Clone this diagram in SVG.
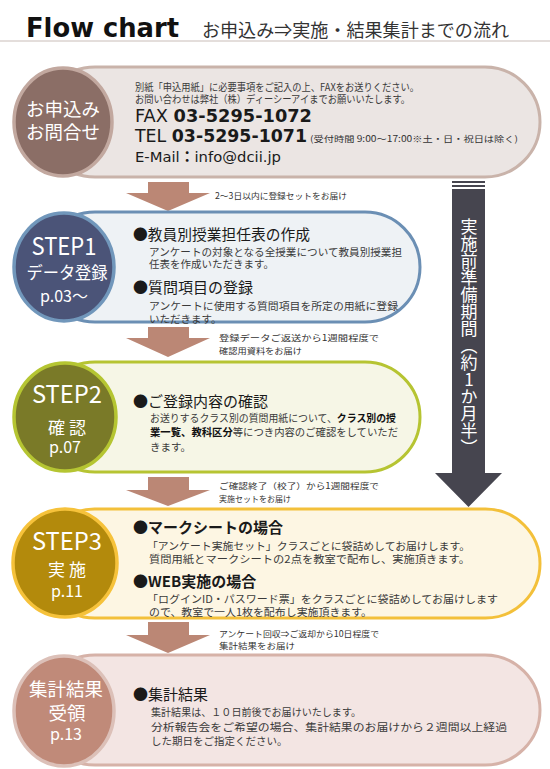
<svg xmlns="http://www.w3.org/2000/svg" width="550" height="769" viewBox="0 0 550 769">
<style>
.jp{font-family:"Noto Sans CJK JP","Noto Sans",sans-serif}
.lat{font-family:"DejaVu Sans","Noto Sans CJK JP",sans-serif}
.body{font-family:"Noto Sans CJK JP",sans-serif;font-size:10.5px;fill:#3a3a3a}
.head{font-family:"Noto Sans CJK JP",sans-serif;font-size:15px;fill:#1a1a1a}
.note{font-family:"Noto Sans CJK JP",sans-serif;font-size:8.5px;fill:#333}
.ctext{font-family:"Noto Sans CJK JP",sans-serif;fill:#fff;text-anchor:middle}
.arrow{fill:#bb8775}
</style>
<rect width="550" height="769" fill="#fff"/>
<g id="header">
<text x="26" y="37" font-family="DejaVu Sans" font-weight="bold" font-size="26" fill="#111" textLength="153" lengthAdjust="spacingAndGlyphs">Flow chart</text>
<text x="202" y="37" class="jp" font-size="18" fill="#333" textLength="307" lengthAdjust="spacingAndGlyphs">お申込み⇒実施・結果集計までの流れ</text>
<line x1="0" y1="41" x2="550" y2="41" stroke="#c9bdb8" stroke-width="1"/>
</g>
<g id="connectors">
<polygon class="arrow" points="148,182 189,182 189,193 210,193 168,211 126,193 148,193"/>
<polygon class="arrow" points="148,327 189,327 189,338 210,338 168,357 126,338 148,338"/>
<polygon class="arrow" points="148,477 189,477 189,490 210,490 168,506 126,490 148,490"/>
<polygon class="arrow" points="148,622 189,622 189,635 210,635 168,653 126,635 148,635"/>
<text class="note" x="215" y="199" textLength="132" lengthAdjust="spacingAndGlyphs">2～3日以内に登録セットをお届け</text>
<text class="note" x="219" y="341" textLength="160" lengthAdjust="spacingAndGlyphs">登録データご返送から1週間程度で</text>
<text class="note" x="219" y="354" textLength="83" lengthAdjust="spacingAndGlyphs">確認用資料をお届け</text>
<text class="note" x="219" y="489" textLength="160" lengthAdjust="spacingAndGlyphs">ご確認終了（校了）から1週間程度で</text>
<text class="note" x="219" y="502" textLength="72" lengthAdjust="spacingAndGlyphs">実施セットをお届け</text>
<text class="note" x="219" y="637" textLength="160" lengthAdjust="spacingAndGlyphs">アンケート回収⇒ご返却から10日程度で</text>
<text class="note" x="219" y="649" textLength="76" lengthAdjust="spacingAndGlyphs">集計結果をお届け</text>
</g>
<g id="period-arrow">
<rect x="452" y="181" width="33" height="2" fill="#46454f"/>
<rect x="452" y="185" width="33" height="2" fill="#46454f"/>
<polygon points="452,189 485,189 485,473 502,473 468.5,507 435,473 452,473" fill="#46454f"/>
<text x="469" y="218" class="jp" font-size="17" fill="#fff" style="writing-mode:vertical-rl;text-orientation:upright">実施前準備期間（約1か月半）</text>
</g>
<g id="apply">
<rect x="40" y="67" width="500" height="110" rx="55" fill="#ebe5e3" stroke="#c9b3aa" stroke-width="3"/>
<ellipse cx="63" cy="122" rx="49" ry="54" fill="#8b6e66" stroke="#c2a89f" stroke-width="3.5"/>
<text class="ctext" x="63" y="116" font-size="18.5">お申込み</text>
<text class="ctext" x="63" y="139" font-size="18.5">お問合せ</text>
<text class="body" x="135" y="91" font-size="10" textLength="284" lengthAdjust="spacingAndGlyphs">別紙「申込用紙」に必要事項をご記入の上、FAXをお送りください。</text>
<text class="body" x="135" y="103" font-size="10" textLength="275" lengthAdjust="spacingAndGlyphs">お問い合わせは弊社（株）ディーシーアイまでお願いいたします。</text>
<text class="lat" x="135" y="122" font-size="17" fill="#1a1a1a" textLength="177" lengthAdjust="spacingAndGlyphs">FAX <tspan font-weight="bold">03-5295-1072</tspan></text>
<text class="lat" x="135" y="142" font-size="17" fill="#1a1a1a" textLength="172" lengthAdjust="spacingAndGlyphs">TEL <tspan font-weight="bold">03-5295-1071</tspan></text>
<text class="jp" x="310" y="142" font-size="8.5" fill="#333" textLength="208" lengthAdjust="spacingAndGlyphs">(受付時間  9:00～17:00※土・日・祝日は除く)</text>
<text class="lat" x="135" y="162" font-size="14.5" fill="#1a1a1a" textLength="146" lengthAdjust="spacingAndGlyphs">E-Mail<tspan font-weight="bold">：</tspan>info@dcii.jp</text>
</g>
<g id="step1">
<rect x="40" y="212" width="380" height="110" rx="55" fill="#eef2f5" stroke="#6b8fb4" stroke-width="3"/>
<ellipse cx="64" cy="267" rx="50" ry="54" fill="#4b5478" stroke="#7197bb" stroke-width="3.5"/>
<text class="ctext" x="64" y="255" font-size="24" textLength="65" lengthAdjust="spacingAndGlyphs">STEP1</text>
<text class="ctext" x="67" y="279" font-size="17.5" textLength="81" lengthAdjust="spacingAndGlyphs">データ登録</text>
<text class="ctext" x="64" y="302" font-size="16">p.03～</text>
<text class="head" x="133" y="240" textLength="177" lengthAdjust="spacingAndGlyphs">●教員別授業担任表の作成</text>
<text class="body" x="149" y="256" textLength="253" lengthAdjust="spacingAndGlyphs">アンケートの対象となる全授業について教員別授業担</text>
<text class="body" x="149" y="268">任表を作成いただきます。</text>
<text class="head" x="133" y="293">●質問項目の登録</text>
<text class="body" x="149" y="310" textLength="249" lengthAdjust="spacingAndGlyphs">アンケートに使用する質問項目を所定の用紙に登録</text>
<text class="body" x="149" y="323">いただきます。</text>
</g>
<g id="step2">
<rect x="40" y="362" width="380" height="110" rx="55" fill="#f6f6e6" stroke="#b6c432" stroke-width="3"/>
<ellipse cx="65" cy="417" rx="51" ry="54" fill="#7a7a28" stroke="#b5c532" stroke-width="3.5"/>
<text class="ctext" x="67" y="403" font-size="24" textLength="70" lengthAdjust="spacingAndGlyphs">STEP2</text>
<text class="ctext" x="67" y="434" font-size="17">確 認</text>
<text class="ctext" x="65" y="453" font-size="16">p.07</text>
<text class="head" x="133" y="407">●ご登録内容の確認</text>
<text class="body" x="150" y="422" textLength="246" lengthAdjust="spacingAndGlyphs">お送りするクラス別の質問用紙について、<tspan font-weight="bold" fill="#111">クラス別の授</tspan></text>
<text class="body" x="150" y="436" textLength="248" lengthAdjust="spacingAndGlyphs"><tspan font-weight="bold" fill="#111">業一覧、教科区分</tspan>等につき内容のご確認をしていただ</text>
<text class="body" x="150" y="451">きます。</text>
</g>
<g id="step3">
<rect x="40" y="509" width="500" height="109" rx="54.5" fill="#fdf6e3" stroke="#f3c03a" stroke-width="3"/>
<ellipse cx="65" cy="563" rx="52" ry="54" fill="#b38a0c" stroke="#f6c23b" stroke-width="3.5"/>
<text class="ctext" x="67" y="550" font-size="24" textLength="70" lengthAdjust="spacingAndGlyphs">STEP3</text>
<text class="ctext" x="67" y="576" font-size="17">実 施</text>
<text class="ctext" x="67" y="597" font-size="16">p.11</text>
<text class="head" x="133" y="533" font-weight="bold">●マークシートの場合</text>
<text class="body" x="147" y="550" font-size="11" textLength="323" lengthAdjust="spacingAndGlyphs">「アンケート実施セット」クラスごとに袋詰めしてお届けします。</text>
<text class="body" x="149" y="563" font-size="11" textLength="321" lengthAdjust="spacingAndGlyphs">質問用紙とマークシートの2点を教室で配布し、実施頂きます。</text>
<text class="head" x="133" y="587" font-weight="bold">●WEB実施の場合</text>
<text class="body" x="147" y="603" font-size="11" textLength="351" lengthAdjust="spacingAndGlyphs">「ログインID・パスワード票」をクラスごとに袋詰めしてお届けします</text>
<text class="body" x="149" y="616" font-size="11" textLength="223" lengthAdjust="spacingAndGlyphs">ので、教室で一人1枚を配布し実施頂きます。</text>
</g>
<g id="result">
<rect x="40" y="655" width="500" height="110" rx="55" fill="#f3e5e3" stroke="#d6b2a8" stroke-width="3"/>
<ellipse cx="64" cy="711" rx="50" ry="55" fill="#c08a79" stroke="#dcc0b8" stroke-width="3.5"/>
<text class="ctext" x="66" y="696" font-size="18.5">集計結果</text>
<text class="ctext" x="67" y="720" font-size="18.5">受領</text>
<text class="ctext" x="66" y="740" font-size="16">p.13</text>
<text class="head" x="133" y="700">●集計結果</text>
<text class="body" x="151" y="716" textLength="210" lengthAdjust="spacingAndGlyphs">集計結果は、１０日前後でお届けいたします。</text>
<text class="body" x="151" y="731" textLength="356" lengthAdjust="spacingAndGlyphs">分析報告会をご希望の場合、集計結果のお届けから２週間以上経過</text>
<text class="body" x="151" y="745">した期日をご指定ください。</text>
</g>
</svg>
